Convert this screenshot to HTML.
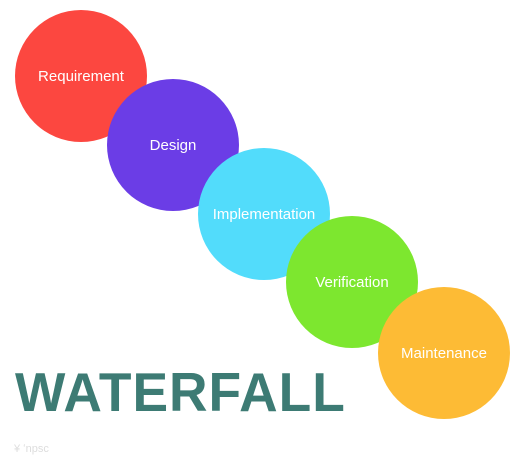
<!DOCTYPE html>
<html><head><style>
html,body{margin:0;padding:0;background:#fff;}
body{width:525px;height:475px;position:relative;overflow:hidden;font-family:"Liberation Sans",sans-serif;}
.c{position:absolute;width:132px;height:132px;border-radius:50%;display:flex;align-items:center;justify-content:center;color:#fff;font-size:15px;}
.w{position:absolute;left:15px;top:360px;font-size:55px;font-weight:bold;color:#3d7b74;transform-origin:0 0;transform:scaleX(0.97);line-height:64px;letter-spacing:1px;}
</style></head><body>
<div class="c" style="left:15px;top:10px;background:#fc4740;">Requirement</div>
<div class="c" style="left:107px;top:79px;background:#6b3de6;">Design</div>
<div class="c" style="left:198px;top:148px;background:#52dcfb;">Implementation</div>
<div class="c" style="left:286px;top:216px;background:#7de72f;">Verification</div>
<div class="c" style="left:378px;top:287px;background:#fdbb35;">Maintenance</div>
<div class="w">WATERFALL</div>
<div style="position:absolute;left:14px;top:443px;font-size:11px;color:#ddd;">¥ ʻnpsc</div>
</body></html>
